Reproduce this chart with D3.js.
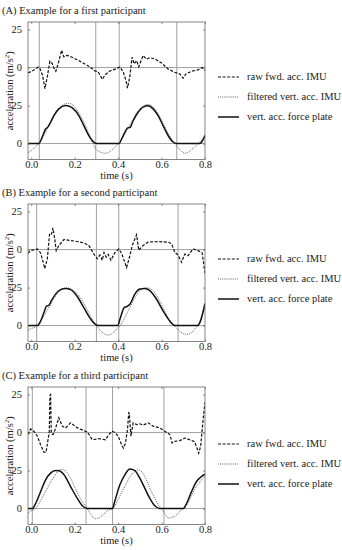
<!DOCTYPE html>
<html>
<head>
<meta charset="utf-8">
<script src="https://cdn.jsdelivr.net/npm/d3@7"></script>
<style>
  body { margin: 0; background: #fff; }
  text { font-family: "Liberation Serif", "Times New Roman", serif; fill: #1a1a1a; }
</style>
</head>
<body>
<div id="chart"></div>
<script>
//panel titles and legend labels
var titles = ["(A) Example for a first participant", "(B) Example for a second participant", "(C) Example for a third participant"];
var legendLabels = ["raw fwd. acc. IMU", "filtered vert. acc. IMU", "vert. acc. force plate"];
var xTicks = [0, 0.2, 0.4, 0.6, 0.8];
var yTicks = [0, 25, 50, 75];          // 50 and 75 are the shifted upper trace (0 and 25)
var upperOffset = 50;

//gray event lines (s)
var eventsA = [0.037, 0.297, 0.405, 0.67];
var eventsB = [0.025, 0.300, 0.403, 0.676];
var eventsC = [0.005, 0.252, 0.374, 0.611];

//raw fwd acc IMU [time, m/s2]
var rawA = [[-0.015,-3.5],[0.010,-1.8],[0.033,0.4],[0.040,-0.7],[0.052,-5],[0.063,-13.8],[0.074,-6],[0.086,4.2],[0.097,2.6],[0.105,-0.5],[0.113,-2.4],[0.124,2.6],[0.14,11.4],[0.15,7],[0.162,8],[0.178,7.5],[0.209,5.3],[0.239,3],[0.27,0.4],[0.293,-2.2],[0.308,-2.8],[0.327,-7.7],[0.339,-5],[0.362,-2.2],[0.393,-0.7],[0.408,0.4],[0.423,-2.8],[0.436,-8.3],[0.443,-13.5],[0.454,-6],[0.464,6.8],[0.474,2.4],[0.485,4.6],[0.495,0.5],[0.515,7.9],[0.53,5.5],[0.546,6.5],[0.569,5.7],[0.6,3],[0.63,-0.9],[0.66,-3.1],[0.684,-4.2],[0.699,-7],[0.712,-4.2],[0.738,-2.4],[0.768,-1.5],[0.787,0],[0.8,-2]];
var rawB = [[-0.015,-2.5],[-0.003,-0.7],[0.028,0.4],[0.043,-2.2],[0.055,-8.4],[0.062,-12.5],[0.074,-6.2],[0.084,10],[0.092,9.5],[0.1,14.2],[0.108,7],[0.115,-0.7],[0.127,2.6],[0.15,6.6],[0.181,6],[0.212,5.3],[0.242,4.4],[0.265,2.7],[0.288,-2.9],[0.304,-6],[0.316,-3.6],[0.327,-7],[0.335,-2],[0.345,-5],[0.354,-3.2],[0.367,-7],[0.385,-2],[0.403,0.4],[0.416,-2.5],[0.439,-11.8],[0.454,-4],[0.465,2.7],[0.485,9.8],[0.495,-0.4],[0.515,2.7],[0.538,4.9],[0.584,5.3],[0.63,4.9],[0.646,3.8],[0.661,-1.8],[0.676,-3.6],[0.692,-8.4],[0.707,-2.9],[0.722,-4],[0.745,0.4],[0.768,-0.7],[0.787,-2.2],[0.8,-15.5]];
var rawC = [[-0.015,-1.3],[-0.003,2.4],[0.012,0.9],[0.028,-2.4],[0.043,-8],[0.058,-12.9],[0.068,-13],[0.078,-4],[0.083,0],[0.086,24.5],[0.089,25],[0.092,0],[0.096,-1],[0.101,-1.3],[0.11,2],[0.127,9.8],[0.143,4.2],[0.158,3],[0.181,6.4],[0.212,3.1],[0.242,1.3],[0.258,0.4],[0.281,-4.7],[0.311,-4],[0.342,-4.7],[0.357,-1.3],[0.373,0.9],[0.388,-0.2],[0.4,-2.4],[0.416,-8],[0.424,-10.2],[0.434,-6.9],[0.443,2],[0.449,13.1],[0.451,13],[0.459,-2.4],[0.469,6.4],[0.485,5.3],[0.5,5.8],[0.515,4.9],[0.538,6.4],[0.561,4.2],[0.592,3.1],[0.615,0.9],[0.638,-1.3],[0.649,-6.9],[0.661,-5.8],[0.684,-5.3],[0.707,-3.6],[0.73,-4.7],[0.752,-6],[0.765,-11],[0.771,-13.6],[0.78,-9],[0.791,8],[0.8,20]];

//filtered vert acc IMU [time, m/s2]
var filtA = [[-0.015,-6],[0.0,-4.5],[0.02,-2],[0.035,0],[0.06,6],[0.09,14],[0.12,21.5],[0.15,25.8],[0.17,26.5],[0.19,25.5],[0.22,20],[0.25,11.5],[0.265,6.5],[0.282,0.5],[0.30,-3.8],[0.32,-5.8],[0.342,-6.4],[0.365,-5],[0.385,-2.5],[0.403,0],[0.42,4],[0.45,11],[0.48,19],[0.51,24],[0.535,25.7],[0.555,24.8],[0.58,20.5],[0.61,12.5],[0.635,5.5],[0.66,0],[0.685,-4],[0.707,-6.4],[0.73,-5],[0.75,-2.5],[0.768,0],[0.8,4.5]];
var filtB = [[-0.015,-3],[0.0,-2],[0.028,0],[0.05,4.5],[0.08,11.5],[0.11,19],[0.14,23.8],[0.165,24.8],[0.19,23.5],[0.22,19.5],[0.25,12.5],[0.275,5.5],[0.3,0],[0.32,-3.5],[0.34,-5.8],[0.355,-6.3],[0.375,-5],[0.395,-2],[0.41,0],[0.43,5],[0.46,13.5],[0.49,21],[0.515,24.5],[0.535,24.8],[0.56,23],[0.59,16.5],[0.62,8],[0.645,2],[0.665,-1],[0.69,-4.5],[0.715,-5.8],[0.735,-5],[0.755,-2],[0.772,1.5],[0.8,14]];
var filtC = [[-0.015,-3],[0.0,-1.5],[0.02,0],[0.05,7],[0.08,15],[0.11,22],[0.135,25.8],[0.155,25],[0.181,20],[0.2,14],[0.219,8.5],[0.24,3.5],[0.258,0],[0.275,-4],[0.295,-6.7],[0.315,-6],[0.335,-3.5],[0.355,-1],[0.375,0],[0.40,6],[0.43,14.5],[0.46,22],[0.49,25.5],[0.51,24],[0.53,19],[0.55,12],[0.569,7],[0.585,2.5],[0.6,0],[0.615,-3.5],[0.632,-6.2],[0.655,-5.5],[0.676,-3.3],[0.69,-1],[0.705,0.5],[0.73,6],[0.753,12.7],[0.78,18],[0.8,21.3]];

//vert acc force plate [time, m/s2]
var forceA = [[-0.015,0],[0.035,0],[0.05,4.1],[0.066,9.6],[0.077,11],[0.089,14],[0.104,18.4],[0.127,22.8],[0.158,25],[0.175,24.6],[0.189,23.5],[0.219,18.4],[0.242,11.8],[0.265,5.3],[0.288,0.9],[0.3,0],[0.405,0],[0.416,3],[0.431,7.4],[0.443,10.3],[0.454,10.5],[0.469,15],[0.492,20.6],[0.515,24],[0.538,24.8],[0.561,22.8],[0.584,18.4],[0.607,11.8],[0.63,5.3],[0.653,1],[0.669,0],[0.775,0],[0.787,1.5],[0.8,5.5]];
var forceB = [[-0.015,0],[0.028,0],[0.043,2.9],[0.058,8.4],[0.071,12.9],[0.081,13.3],[0.092,16.2],[0.112,20.7],[0.135,23.6],[0.158,24.4],[0.181,23.6],[0.212,19.1],[0.242,11.8],[0.273,4.4],[0.296,0.7],[0.31,0],[0.398,0],[0.408,4],[0.428,11.8],[0.439,12.4],[0.454,14],[0.477,20.7],[0.5,24],[0.523,24.4],[0.546,23],[0.577,17.3],[0.607,9.6],[0.638,2.9],[0.661,0],[0.765,0],[0.776,1.8],[0.8,14.5]];
var forceC = [[-0.015,0],[0.005,0],[0.02,3.3],[0.043,11.1],[0.066,18.9],[0.089,23.3],[0.112,25],[0.127,24.9],[0.15,22.4],[0.181,14.5],[0.212,6.7],[0.235,1.8],[0.258,0],[0.374,0],[0.385,5],[0.408,15.6],[0.431,22.2],[0.454,26],[0.477,25],[0.5,20],[0.523,13.3],[0.546,6.7],[0.569,1.8],[0.592,0],[0.70,0],[0.715,3.3],[0.738,11.1],[0.761,17.8],[0.784,21.1],[0.8,22.7]];

var panels = [
    { title: titles[0], events: eventsA, raw: rawA, filt: filtA, force: forceA },
    { title: titles[1], events: eventsB, raw: rawB, filt: filtB, force: forceB },
    { title: titles[2], events: eventsC, raw: rawC, filt: filtC, force: forceC }
];

//svg and panel dimensions
var svgWidth = 342;
var svgHeight = 550;
var panelTop = [0, 182, 365];
var legendTop = [77, 77, 79];
var plot = { left: 28, right: 205, top: 22, bottom: 159.5 };
var gridColor = "#a0a0a0";
var fontSize = "10.5px";

var svg = d3.select("#chart").append("svg")
    .attr("width", svgWidth)
    .attr("height", svgHeight);

//shared scales
var xScale = d3.scaleLinear().domain([-0.015, 0.8]).range([plot.left, plot.right]);
var yScale = d3.scaleLinear().domain([-10.5, 80]).range([plot.bottom, plot.top]);

svg.append("clipPath").attr("id", "clip")
    .append("rect")
    .attr("x", plot.left).attr("y", plot.top)
    .attr("width", plot.right - plot.left).attr("height", plot.bottom - plot.top);

var lineSmooth = d3.line().x(d => xScale(d[0])).y(d => yScale(d[1])).curve(d3.curveMonotoneX);
var lineUpper = d3.line().x(d => xScale(d[0])).y(d => yScale(d[1] + upperOffset));

//series styles
var styles = [
    { width: 1.2, dash: "3,1.6", color: "#111" },
    { width: 0.8, dash: "1,1.1", color: "#333" },
    { width: 1.5, dash: null, color: "#111" }
];

panels.forEach(function (p, i) {
    var g = svg.append("g").attr("transform", `translate(0, ${panelTop[i]})`);

    //title
    g.append("text")
        .attr("x", 2)
        .attr("y", 14)
        .attr("font-size", fontSize)
        .text(p.title);

    //gray event lines
    g.selectAll(".event")
        .data(p.events)
        .enter()
        .append("line")
        .attr("x1", d => xScale(d)).attr("x2", d => xScale(d))
        .attr("y1", plot.top).attr("y2", plot.bottom)
        .attr("stroke", gridColor)
        .attr("stroke-width", 1);

    //zero lines for both traces
    g.selectAll(".zero")
        .data([0, upperOffset])
        .enter()
        .append("line")
        .attr("x1", plot.left).attr("x2", plot.right)
        .attr("y1", d => yScale(d)).attr("y2", d => yScale(d))
        .attr("stroke", gridColor)
        .attr("stroke-width", 1);

    //curves
    var curves = g.append("g").attr("clip-path", "url(#clip)");
    curves.append("path")
        .attr("d", lineUpper(p.raw))
        .attr("fill", "none")
        .attr("stroke", styles[0].color)
        .attr("stroke-width", styles[0].width)
        .attr("stroke-dasharray", styles[0].dash);
    curves.append("path")
        .attr("d", lineSmooth(p.filt))
        .attr("fill", "none")
        .attr("stroke", styles[1].color)
        .attr("stroke-width", styles[1].width)
        .attr("stroke-dasharray", styles[1].dash);
    curves.append("path")
        .attr("d", lineSmooth(p.force))
        .attr("fill", "none")
        .attr("stroke", styles[2].color)
        .attr("stroke-width", styles[2].width);

    //axes with inward ticks
    var yFmt = d => (d >= upperOffset ? d - upperOffset : d);
    var leftAxis = g.append("g")
        .attr("transform", `translate(${plot.left}, 0)`)
        .call(d3.axisLeft(yScale).tickValues(yTicks).tickFormat(yFmt).tickSize(-2).tickPadding(6));
    var rightAxis = g.append("g")
        .attr("transform", `translate(${plot.right}, 0)`)
        .call(d3.axisRight(yScale).tickValues(yTicks).tickFormat("").tickSize(-2));
    var bottomAxis = g.append("g")
        .attr("transform", `translate(0, ${plot.bottom})`)
        .call(d3.axisBottom(xScale).tickValues(xTicks).tickFormat(d3.format(".1f")).tickSize(-2).tickPadding(1.5));
    var topAxis = g.append("g")
        .attr("transform", `translate(0, ${plot.top})`)
        .call(d3.axisTop(xScale).tickValues(xTicks).tickFormat("").tickSize(-2));
    [leftAxis, rightAxis, bottomAxis, topAxis].forEach(function (a) {
        a.select(".domain").remove();
        a.selectAll(".tick line").attr("stroke", "#555").attr("stroke-width", 0.7);
        a.selectAll("text")
            .attr("font-family", "Liberation Serif, serif")
            .attr("font-size", fontSize)
            .attr("fill", "#1a1a1a");
    });

    //frame
    g.append("rect")
        .attr("x", plot.left).attr("y", plot.top)
        .attr("width", plot.right - plot.left).attr("height", plot.bottom - plot.top)
        .attr("fill", "none")
        .attr("stroke", "#666")
        .attr("stroke-width", 0.8);

    //axis labels
    g.append("text")
        .attr("x", (plot.left + plot.right) / 2)
        .attr("y", 179)
        .attr("text-anchor", "middle")
        .attr("font-size", fontSize)
        .text("time (s)");
    var yl = g.append("text")
        .attr("transform", `translate(12.5, ${(plot.top + plot.bottom) / 2}) rotate(-90)`)
        .attr("text-anchor", "middle")
        .attr("font-size", fontSize);
    yl.append("tspan").text("acceleration (m/s");
    yl.append("tspan").attr("font-size", "7px").attr("dy", -4).text("2");
    yl.append("tspan").attr("dy", 4).text(")");

    //legend
    var legend = g.append("g").attr("transform", `translate(218, ${legendTop[i]})`);
    legendLabels.forEach(function (lab, k) {
        legend.append("line")
            .attr("x1", 0).attr("x2", 21)
            .attr("y1", k * 20).attr("y2", k * 20)
            .attr("stroke", styles[k].color)
            .attr("stroke-width", styles[k].width)
            .attr("stroke-dasharray", styles[k].dash);
        legend.append("text")
            .attr("x", 29)
            .attr("y", k * 20)
            .attr("dy", "0.33em")
            .attr("font-size", fontSize)
            .text(lab);
    });
});
</script>
</body>
</html>
